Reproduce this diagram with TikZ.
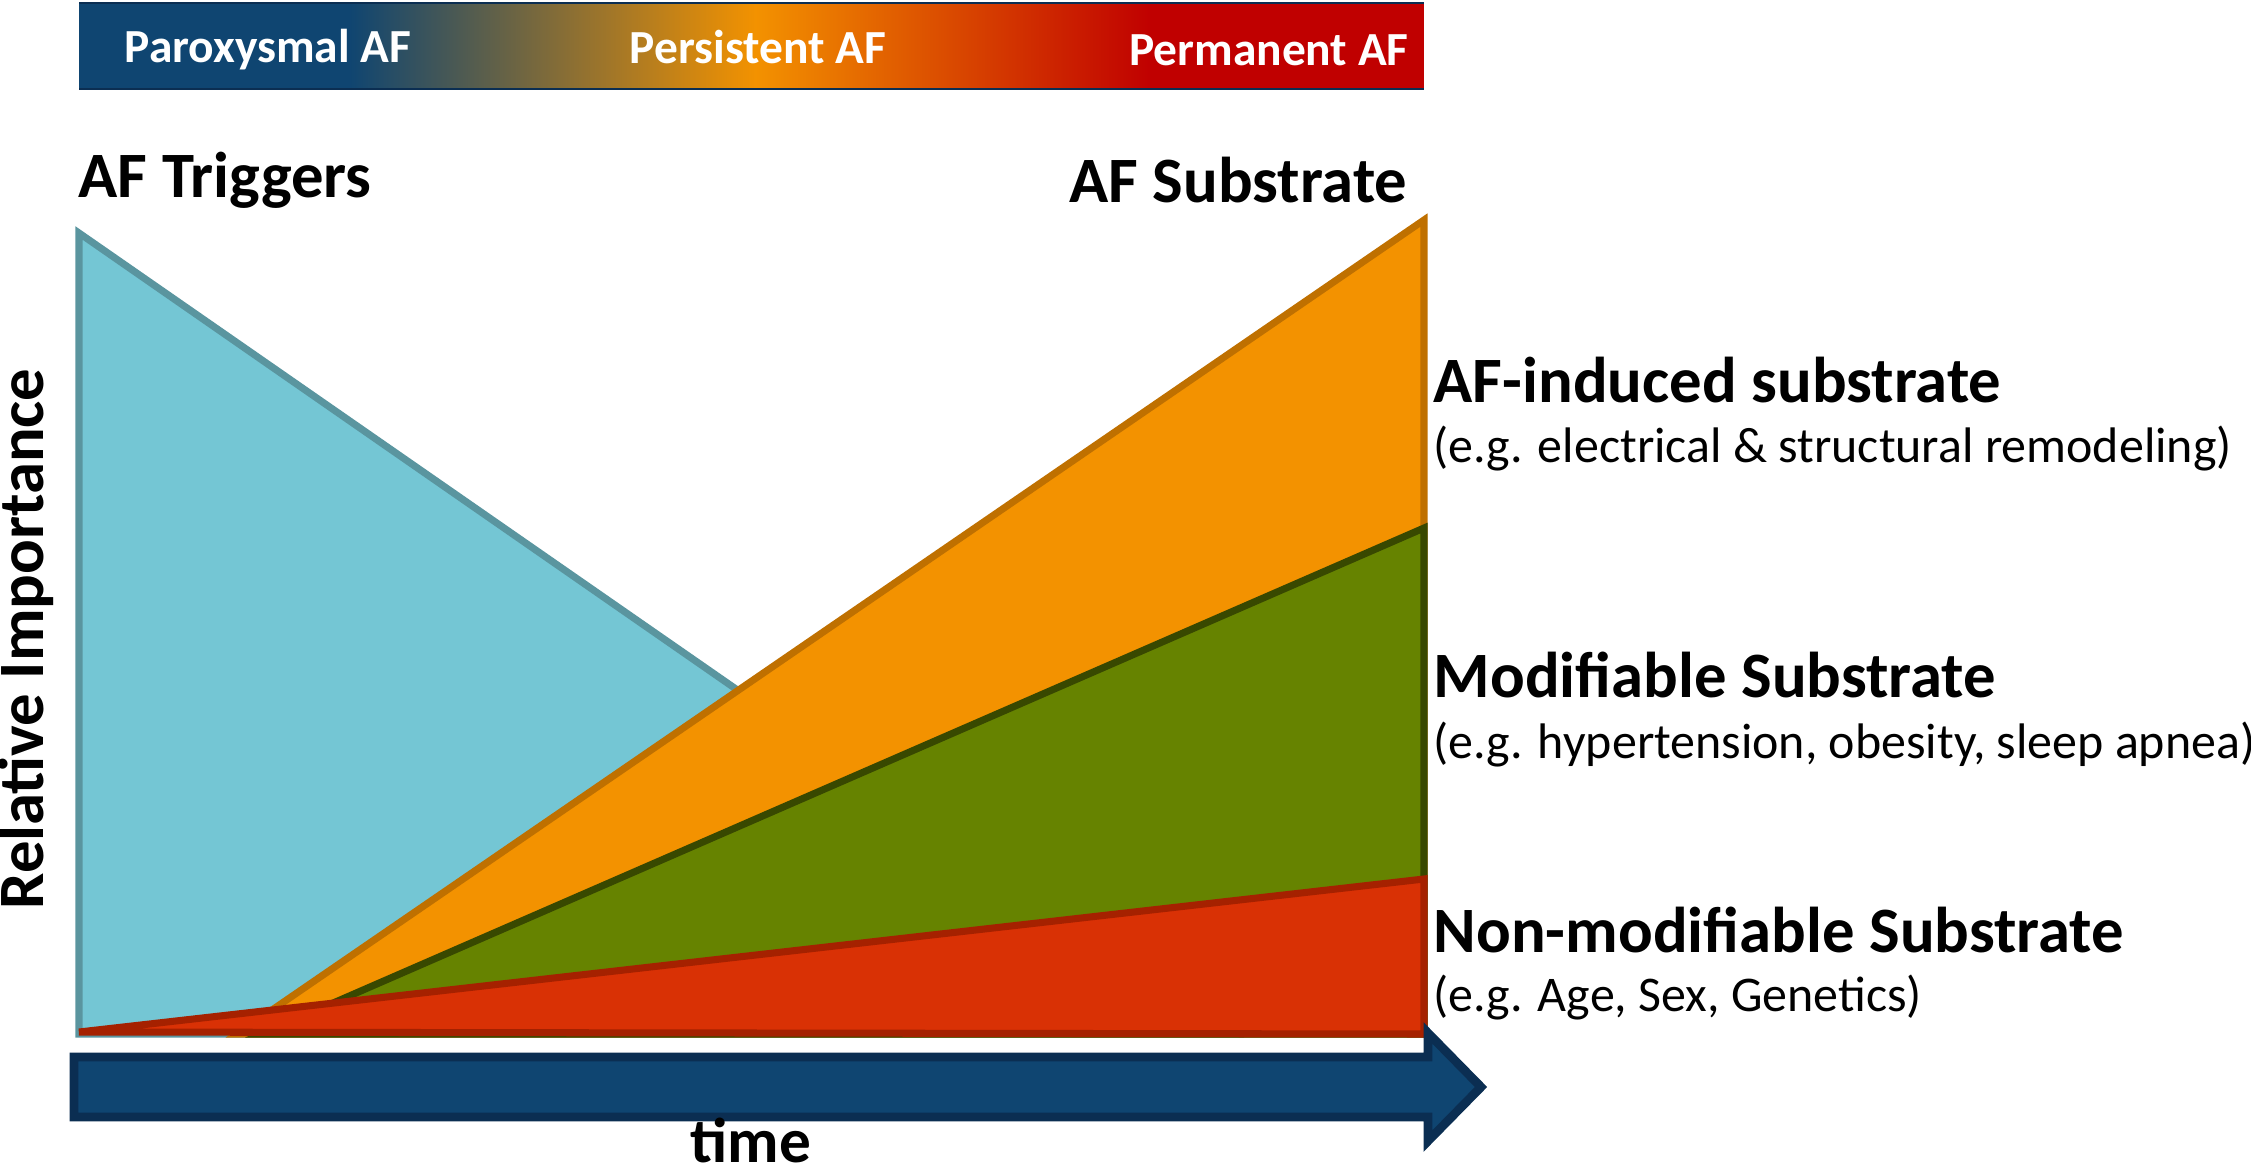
\documentclass[tikz,border=0pt]{standalone}
\usepackage{fontspec}
\setmainfont{Carlito}
\definecolor{afblue}{HTML}{0F4571}
\definecolor{afblueline}{HTML}{0B2E52}
\definecolor{aforange}{HTML}{F39200}
\definecolor{aforangeline}{HTML}{BF7000}
\definecolor{afred}{HTML}{C00000}
\definecolor{trigfill}{HTML}{74C6D4}
\definecolor{trigline}{HTML}{5A959F}
\definecolor{modfill}{HTML}{668300}
\definecolor{modline}{HTML}{384800}
\definecolor{nonfill}{HTML}{D93105}
\definecolor{nonline}{HTML}{A52100}
\begin{document}
\begin{tikzpicture}[x=0.01cm,y=-0.01cm,
  edge/.style={line width=2pt,line join=miter},
  bartext/.style={text=white,font=\bfseries\fontsize{13.5}{16}\selectfont},
  headtext/.style={inner sep=0pt,font=\bfseries\fontsize{18.4}{22}\selectfont},
  subtext/.style={inner sep=0pt,font=\fontsize{14.2}{17}\selectfont}]
  \useasboundingbox (0,0) rectangle (2251,1176);
  % stage bar
  \fill[afblue] (79,3) rectangle (350,89);
  \shade[left color=afblue,right color=aforange] (349,3) rectangle (756,89);
  \shade[left color=aforange,right color=afred] (755,3) rectangle (1151,89);
  \fill[afred] (1150,3) rectangle (1424,89);
  \draw[afblueline,line width=0.8pt] (79,3) -- (1424,3) (79,89) -- (1424,89);
  \node[bartext] (parox) at (268,50) {Paroxysmal AF};
  \node[bartext] (persist) at (758,47) {Persistent AF};
  \node[bartext] (perman) at (1269,50) {Permanent AF};
  % column titles
  \node[headtext,anchor=west] (trig) at (78,180) {AF Triggers};
  \node[headtext,anchor=east] (subst) at (1408,180) {AF Substrate};
  % wedges
  \filldraw[edge,fill=trigfill,draw=trigline] (79,233) -- (79,1034) -- (1233,1034) -- cycle;
  \filldraw[edge,fill=aforange,draw=aforangeline] (237,1034) -- (1424,220) -- (1424,1034) -- cycle;
  \filldraw[edge,fill=modfill,draw=modline] (262,1034) -- (1424,528) -- (1424,1034) -- cycle;
  \filldraw[edge,fill=nonfill,draw=nonline] (79,1032) -- (1424,879) -- (1424,1034) -- cycle;
  % labels on the right
  \node[headtext,anchor=west] (induced) at (1433,380) {AF-induced substrate};
  \node[subtext,anchor=west] (inducedeg) at (1433,449) {(e.g. electrical \& structural remodeling)};
  \node[headtext,anchor=west] (modif) at (1433,675) {Modifiable Substrate};
  \node[subtext,anchor=west] (modifeg) at (1433,745) {(e.g. hypertension, obesity, sleep apnea)};
  \node[headtext,anchor=west] (nonmod) at (1433,930) {Non-modifiable Substrate};
  \node[subtext,anchor=west] (nonmodeg) at (1433,998) {(e.g. Age, Sex, Genetics)};
  % time arrow
  \filldraw[fill=afblue,draw=afblueline,line width=2.5pt,line join=miter]
    (74,1057) -- (1428,1057) -- (1428,1033) -- (1481,1087) -- (1428,1141)
    -- (1428,1117) -- (74,1117) -- cycle;
  \node[inner sep=0pt,anchor=base,font=\bfseries\fontsize{18}{21}\selectfont] (time) at (751,1162) {time};
  \node[headtext,rotate=90] (relimp) at (26,639) {Relative Importance};
\end{tikzpicture}
\end{document}
